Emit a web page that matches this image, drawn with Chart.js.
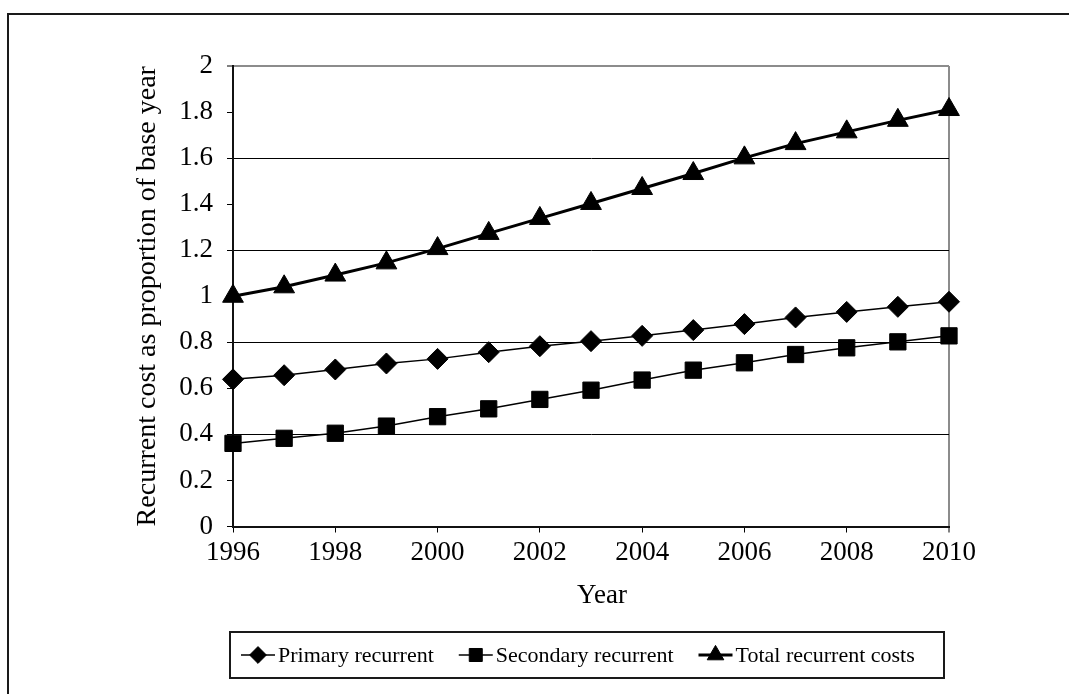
<!DOCTYPE html>
<html>
<head>
<meta charset="utf-8">
<script src="https://cdn.jsdelivr.net/npm/chart.js@4/dist/chart.umd.min.js"></script>
<style>
  html, body { margin: 0; padding: 0; background: #ffffff; }
  #wrap { width: 1069px; height: 694px; }
</style>
</head>
<body>
<div id="wrap"><canvas id="c" width="1069" height="694"></canvas></div>
<script>
// Recurrent cost relative to the 1996 base year
const years = [1996, 1997, 1998, 1999, 2000, 2001, 2002, 2003, 2004, 2005, 2006, 2007, 2008, 2009, 2010];
const primaryRecurrent   = [0.639, 0.657, 0.682, 0.708, 0.728, 0.757, 0.783, 0.805, 0.828, 0.853, 0.879, 0.908, 0.932, 0.954, 0.976];
const secondaryRecurrent = [0.361, 0.383, 0.405, 0.436, 0.477, 0.511, 0.552, 0.592, 0.636, 0.679, 0.711, 0.747, 0.776, 0.802, 0.828];
const totalRecurrent     = [1.000, 1.041, 1.092, 1.145, 1.207, 1.273, 1.338, 1.403, 1.468, 1.533, 1.601, 1.663, 1.714, 1.764, 1.811];

const seriesNames = ['Primary recurrent', 'Secondary recurrent', 'Total recurrent costs'];
const xTickYears = [1996, 1998, 2000, 2002, 2004, 2006, 2008, 2010];
const yTickValues = [0, 0.2, 0.4, 0.6, 0.8, 1, 1.2, 1.4, 1.6, 1.8, 2];
const yTickLabels = ['0', '0.2', '0.4', '0.6', '0.8', '1', '1.2', '1.4', '1.6', '1.8', '2'];
const xTitle = 'Year';
const yTitle = 'Recurrent cost as proportion of base year';

const SERIF = '"Liberation Serif", "Times New Roman", serif';
const pairs = vals => years.map((yr, i) => ({ x: yr, y: vals[i] }));

// Outer frame, x-axis caption and the boxed legend
const framePlugin = {
  id: 'frameAndLegend',
  afterDraw(chart) {
    const ctx = chart.ctx;
    const H = Chart.helpers;
    ctx.save();
    // frame
    ctx.strokeStyle = '#1a1a1a';
    ctx.lineWidth = 2;
    ctx.strokeRect(8, 14, chart.width + 40, chart.height + 40);

    // x-axis caption
    ctx.fillStyle = '#000';
    ctx.font = '27px ' + SERIF;
    ctx.textAlign = 'center';
    ctx.textBaseline = 'middle';
    ctx.fillText(xTitle, 602, 596);

    // legend box
    const bx = 230, by = 632, bw = 714, bh = 46;
    ctx.strokeStyle = '#1a1a1a';
    ctx.lineWidth = 2;
    ctx.strokeRect(bx, by, bw, bh);

    ctx.font = '22px ' + SERIF;
    ctx.textAlign = 'left';
    ctx.textBaseline = 'middle';
    const cy = by + bh / 2;
    let x = 241;
    chart.data.datasets.forEach(ds => {
      ctx.strokeStyle = '#000';
      ctx.lineWidth = ds.borderWidth;
      ctx.beginPath();
      ctx.moveTo(x, cy);
      ctx.lineTo(x + 34, cy);
      ctx.stroke();
      ctx.fillStyle = '#000';
      ctx.lineWidth = 1;
      H.drawPoint(ctx, { pointStyle: ds.pointStyle, radius: ds.pointRadius * 0.8, rotation: 0, borderWidth: 1 }, x + 17, cy);
      ctx.fillStyle = '#000';
      ctx.fillText(ds.label, x + 37, cy + 1);
      x += 37 + ctx.measureText(ds.label).width + 25;
    });
    ctx.restore();
  }
};

const lineStyle = (label, vals, style, radius, width) => ({
  label,
  data: pairs(vals),
  borderColor: '#000',
  backgroundColor: '#000',
  borderWidth: width,
  pointStyle: style,
  pointRadius: radius,
  pointHoverRadius: radius,
  pointBackgroundColor: '#000',
  pointBorderColor: '#000',
  pointBorderWidth: 1,
  tension: 0,
  clip: false
});

new Chart(document.getElementById('c'), {
  type: 'line',
  data: {
    datasets: [
      lineStyle(seriesNames[0], primaryRecurrent, 'rectRot', 10.5, 1.5),
      lineStyle(seriesNames[1], secondaryRecurrent, 'rect', 11.5, 1.5),
      lineStyle(seriesNames[2], totalRecurrent, 'triangle', 12, 3)
    ]
  },
  options: {
    responsive: false,
    animation: false,
    events: [],
    layout: { padding: { left: 127, right: 120, top: 66, bottom: 0 } },
    plugins: { legend: { display: false }, tooltip: { enabled: false } },
    scales: {
      x: {
        type: 'linear',
        min: 1996,
        max: 2010,
        afterBuildTicks: s => { s.ticks = xTickYears.map(v => ({ value: v })); },
        afterFit: s => { s.height = 694 - 526.5; },
        ticks: {
          color: '#000',
          font: { family: SERIF, size: 27 },
          padding: 4,
          maxRotation: 0,
          autoSkip: false,
          callback: v => String(v)
        },
        grid: {
          color: c => (c.tick && c.tick.value === 2010) ? '#8c8c8c' : 'rgba(0,0,0,0)',
          lineWidth: c => (c.tick && c.tick.value === 2010) ? 2 : 1,
          tickColor: '#000',
          tickWidth: 1,
          tickLength: 6
        },
        border: { color: '#111', width: 2 }
      },
      y: {
        type: 'linear',
        min: 0,
        max: 2,
        afterBuildTicks: s => { s.ticks = yTickValues.map(v => ({ value: v })); },
        afterFit: s => { s.width = 233 - 127; },
        ticks: {
          color: '#000',
          font: { family: SERIF, size: 27 },
          padding: 14,
          autoSkip: false,
          callback: (v, i) => yTickLabels[i]
        },
        grid: {
          color: c => c.index === 10 ? '#8c8c8c' : (c.index > 0 && c.index % 2 === 0 ? '#000' : 'rgba(0,0,0,0)'),
          lineWidth: c => c.index === 10 ? 2 : 1,
          tickColor: '#000',
          tickWidth: 1,
          tickLength: 6
        },
        border: { color: '#111', width: 2 },
        title: {
          display: true,
          text: yTitle,
          color: '#000',
          font: { family: SERIF, size: 28 },
          padding: { top: 4, bottom: 4 }
        }
      }
    }
  },
  plugins: [framePlugin]
});
</script>
</body>
</html>
